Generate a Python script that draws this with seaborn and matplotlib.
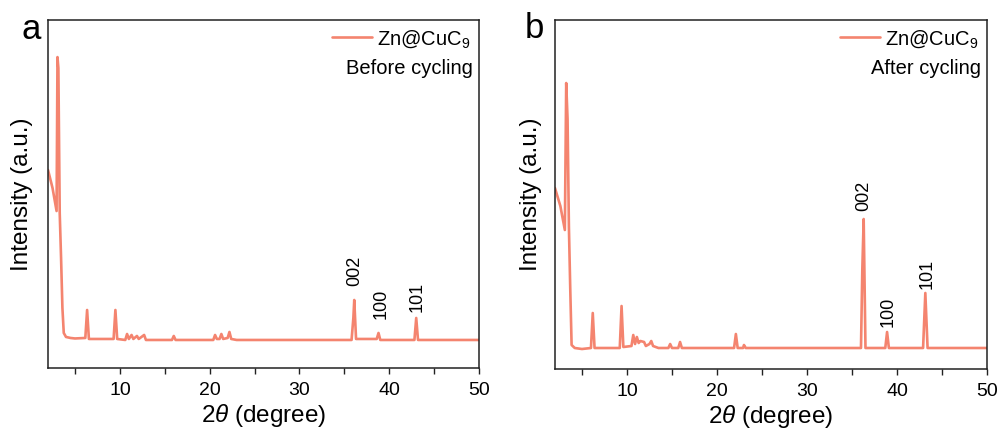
import matplotlib
matplotlib.use("Agg")
import matplotlib.pyplot as plt
import seaborn as sns
import numpy as np
from matplotlib.ticker import MultipleLocator

# ---------------- data (arbitrary intensity units) ----------------
two_theta_before = [2.0, 2.5, 2.95, 3.05, 3.15, 3.3, 3.45, 3.6, 3.75, 4.0, 4.5, 5.0,
                    6.15, 6.35, 6.55, 9.3, 9.5, 9.7, 10.6, 10.8, 11.0, 11.3, 11.5,
                    11.9, 12.1, 12.7, 12.9, 13.5, 15.8, 16.0, 16.2, 18.0, 20.4, 20.6, 20.8,
                    21.1, 21.3, 21.5, 22.0, 22.2, 22.4, 23.0, 26.0, 30.0, 35.8, 36.0, 36.1,
                    36.3, 38.6, 38.8, 39.0, 42.8, 43.0, 43.2, 46.0, 50.0]
intensity_before = [198, 180, 157, 311, 300, 155, 110, 60, 35, 31, 30, 29.5,
                    30, 58, 29, 29, 58, 29, 28, 34, 29, 33, 29,
                    32, 29, 33, 28, 28, 28, 32, 28, 28, 28, 33, 29,
                    29, 34, 29, 30, 36, 29, 28, 28, 28, 28, 50, 68,
                    29, 29, 35, 28, 28, 50, 28, 28, 28]

two_theta_after = [2.0, 2.6, 3.1, 3.25, 3.4, 3.55, 3.7, 3.85, 4.2, 5.0, 6.0,
                   6.2, 6.4, 9.2, 9.4, 9.6, 10.5, 10.7, 10.9, 11.1, 11.3, 11.5,
                   11.9, 12.1, 12.5, 12.7, 12.9, 13.5, 14.6, 14.8, 15.0, 15.7, 15.9, 16.1,
                   18.0, 21.9, 22.1, 22.3, 22.9, 23.0, 23.2, 28.0, 33.0, 36.0, 36.15, 36.3,
                   36.5, 38.7, 38.9, 39.1, 42.9, 43.15, 43.4, 47.0, 50.0]
intensity_after = [181, 163, 139, 286, 250, 142, 80, 24, 21, 20, 21,
                   56, 21, 21, 63, 22, 23, 34, 25, 32, 26, 28,
                   27, 23, 25, 28, 23, 21, 21, 25, 21, 21, 27, 21,
                   21, 21, 35, 21, 21, 24, 21, 21, 21, 21, 100, 150,
                   21, 21, 37, 21, 21, 76, 21, 21, 21]

series_label = "Zn@CuC$_9$"
panel_letters = ["a", "b"]
condition_texts = ["Before cycling", "After cycling"]
xticks = [10, 20, 30, 40, 50]
hkl_labels = ["002", "100", "101"]
hkl_pos_before = [(36.1, 82), (39.1, 49), (43.1, 56)]
hkl_pos_after = [(36.3, 158), (39.0, 42), (43.35, 80)]

# ---------------- style ----------------
sns.set_theme(style="ticks")
plt.rcParams["font.family"] = ["Liberation Sans", "DejaVu Sans"]
plt.rcParams["mathtext.fontset"] = "custom"
plt.rcParams["mathtext.rm"] = "Liberation Sans"
plt.rcParams["mathtext.it"] = "Liberation Sans:italic"
plt.rcParams["mathtext.default"] = "rm"
plt.rcParams["text.color"] = "black"
plt.rcParams["axes.labelcolor"] = "black"

line_color = "#F4846F"

fig = plt.figure(figsize=(10.01, 4.37), dpi=100)
axes = [fig.add_axes([0.048, 0.158, 0.4306, 0.796]),
        fig.add_axes([0.5544, 0.1556, 0.4316, 0.7986])]

datasets = [(two_theta_before, intensity_before, hkl_pos_before, 348),
            (two_theta_after, intensity_after, hkl_pos_after, 349)]

for i, (ax, (xs, ys, hkl_pos, ytop)) in enumerate(zip(axes, datasets)):
    sns.lineplot(x=xs, y=ys, ax=ax, color=line_color, lw=1.9, label=series_label,
                 estimator=None)
    ax.set_xlim(2, 50)
    ax.set_ylim(0, ytop)
    ax.set_xticks(xticks)
    ax.xaxis.set_minor_locator(MultipleLocator(5))
    ax.tick_params(axis="x", which="both", direction="out", length=4, width=1.0,
                   color="#222222", pad=6, labelsize=14, labelcolor="black")
    ax.set_yticks([])
    for sp in ax.spines.values():
        sp.set_visible(True)
        sp.set_color("#222222")
        sp.set_linewidth(1.1)
    ax.set_xlabel("2$\\it{θ}$ (degree)", fontsize=17.5, labelpad=2.5, color="black")
    ax.set_ylabel("Intensity (a.u.)", fontsize=17.5, labelpad=11 if i == 0 else 9,
                  color="black")
    leg = ax.legend(loc="upper right", frameon=False, fontsize=14.5, handlelength=2.0,
                    handletextpad=0.25, borderaxespad=0.3, borderpad=0.1)
    for t in leg.get_texts():
        t.set_color("black")
    ax.text(0.985, 0.86, condition_texts[i], transform=ax.transAxes, ha="right",
            va="center", fontsize=14.5, color="black")
    for lab, (px, py) in zip(hkl_labels, hkl_pos):
        ax.text(px, py, lab, rotation=90, ha="center", va="bottom", fontsize=13,
                color="black")

fig.text(0.021, 1 - 39 / 437, panel_letters[0], fontsize=25, va="baseline", ha="left",
         color="black")
fig.text(0.524, 1 - 38 / 437, panel_letters[1], fontsize=25, va="baseline", ha="left",
         color="black")

fig.savefig("out.png", dpi=100)
